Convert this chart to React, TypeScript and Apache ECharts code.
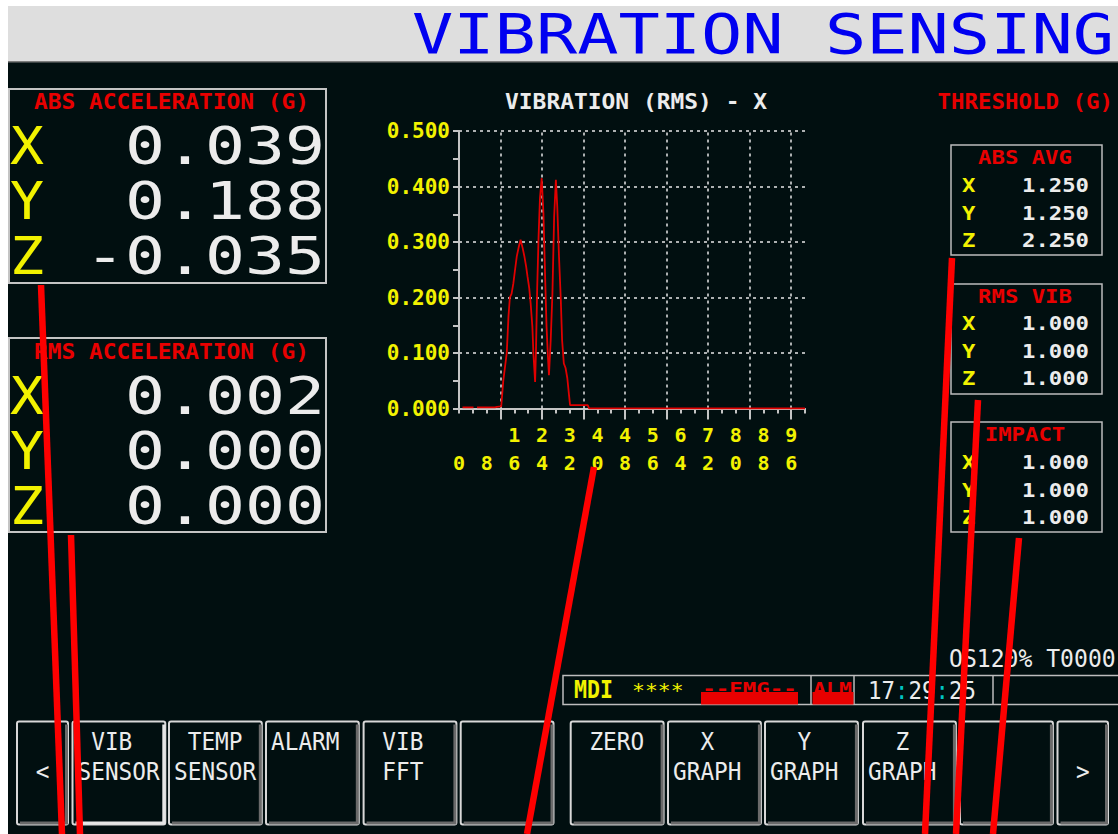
import React, { useEffect, useRef } from 'react';
import * as echarts from 'echarts';

// ---------------- data ----------------
const freqHz = [1, 4.2, 4.6, 5.2, 10.4, 11.0, 12.2, 12.8, 13.8, 14.3, 14.7, 15.2, 15.7, 16.2, 16.7, 17.3, 17.8, 18.4, 18.9, 19.4, 19.8, 20.3, 20.7, 21.2, 21.5, 22.0, 22.25, 22.6, 23.0, 23.4, 23.9, 24.4, 24.9, 25.3, 25.7, 26.0, 26.5, 27.0, 27.5, 28.0, 28.4, 28.9, 29.4, 29.8, 30.3, 30.8, 31.3, 31.8, 32.1, 37.2, 37.6, 100];
const rmsX: (number | null)[] = [0.002, 0.002, null, 0.002, 0.002, 0.003, 0.004, 0.05, 0.10, 0.166, 0.2, 0.207, 0.225, 0.25, 0.274, 0.292, 0.304, 0.289, 0.274, 0.256, 0.238, 0.217, 0.19, 0.148, 0.1, 0.048, 0.105, 0.217, 0.31, 0.379, 0.415, 0.352, 0.235, 0.148, 0.094, 0.06, 0.123, 0.207, 0.346, 0.412, 0.364, 0.274, 0.2, 0.123, 0.081, 0.073, 0.055, 0.024, 0.006, 0.006, 0, 0];
const xLabelValues = [0, 8, 16, 24, 32, 40, 48, 56, 64, 72, 80, 88, 96];
const xGridValues = [12, 24, 36, 48, 60, 72, 84, 96];

const axisNames = ['X', 'Y', 'Z'];
const absAccel = [0.039, 0.188, -0.035];
const rmsAccel = [0.002, 0.0, 0.0];
const thrAbsAvg = [1.25, 1.25, 2.25];
const thrRmsVib = [1.0, 1.0, 1.0];
const thrImpact = [1.0, 1.0, 1.0];
const leftKeys = [['<'], [' VIB', 'SENSOR'], [' TEMP', 'SENSOR'], ['ALARM'], [' VIB', ' FFT'], []];
const rightKeys = [[' ZERO'], ['  X', 'GRAPH'], ['  Y', 'GRAPH'], ['  Z', 'GRAPH'], [], ['>']];
const clockText = '17:29:25';

// ---------------- styles ----------------
const BG = '#010f10';
const WHITE = '#ececec';
const YELLOW = '#f2f200';
const RED = '#e80000';
const GRAYLINE = '#c4c4c4';
const FONT = '"DejaVu Sans Mono", "Liberation Mono", monospace';
const ADV = 0.602;

function txt(text: string, x: number, y: number, size: number, adv: number, fill: string, opts: any = {}) {
  const align = opts.align || 'left';
  return {
    type: 'text',
    x,
    y,
    scaleX: adv / (ADV * size),
    z: opts.z ?? 10,
    style: {
      text,
      fill,
      font: `${opts.bold ? 'bold ' : ''}${size}px ${FONT}`,
      align,
      verticalAlign: 'middle',
      textAlign: align,
      textVerticalAlign: 'middle',
      rich: opts.rich,
    },
  };
}

function box(x: number, y: number, w: number, h: number, stroke = GRAYLINE, lw = 2) {
  return { type: 'rect', z: 5, shape: { x, y, width: w, height: h }, style: { fill: 'none', stroke, lineWidth: lw } };
}

function fillRect(x: number, y: number, w: number, h: number, fill: string, z = 1) {
  return { type: 'rect', z, shape: { x, y, width: w, height: h }, style: { fill } };
}

function softkey(x: number, w: number, lines: string[], selected: boolean) {
  const y = 721.5;
  const h = 103;
  const els: any[] = [
    { type: 'rect', z: 5, shape: { x, y, width: w, height: h, r: 2 }, style: { fill: 'none', stroke: '#d8d8d8', lineWidth: 2 } },
    { type: 'polyline', z: 6, shape: { points: [[x + w - 1.5, y + 3], [x + w - 1.5, y + h - 1.5], [x + 3, y + h - 1.5]] }, style: { fill: 'none', stroke: selected ? '#e6e6e6' : '#6a6a6a', lineWidth: 3 } },
  ];
  const adv = 13.7;
  if (lines.length === 1 && (lines[0] === '<' || lines[0] === '>')) {
    els.push(txt(lines[0], x + w / 2, 772, 24, adv, WHITE, { align: 'center' }));
    return els;
  }
  lines.forEach((ln, i) => {
    const lead = ln.length - ln.replace(/^ +/, '').length;
    els.push(txt(ln.trim(), x + 5 + lead * adv, i === 0 ? 742 : 772, 24, adv, WHITE));
  });
  return els;
}

const ANNOTATION_LINES = [
  [41, 285, 62, 834],
  [71, 535, 80, 834],
  [594, 467, 527, 834],
  [952, 258, 925, 834],
  [978, 400, 956, 834],
  [1019, 538, 993, 834],
];

function buildGraphic() {
  const els: any[] = [];
  // page margins and header
  els.push(fillRect(0, 0, 8, 834, '#ffffff'));
  els.push(fillRect(0, 0, 1118, 6, '#ffffff'));
  els.push(fillRect(8, 6, 1110, 55, '#dedede'));
  els.push(fillRect(8, 61, 1110, 1.5, '#7c7c7c'));
  els.push(txt('VIBRATION SENSING', 412, 34, 56, 41.3, '#0000f0'));

  // ABS acceleration panel
  els.push(box(9, 89, 317, 194));
  els.push(txt('ABS ACCELERATION (G)', 34, 102, 21, 13.75, RED, { bold: true }));
  absAccel.forEach((v, i) => {
    const y = 146 + i * 55;
    els.push(txt(axisNames[i], 10, y, 52, 34, YELLOW));
    els.push(txt(v.toFixed(3), 325, y, 52, 40, WHITE, { align: 'right' }));
  });

  // RMS acceleration panel
  els.push(box(9, 338, 317, 194));
  els.push(txt('RMS ACCELERATION (G)', 34, 352, 21, 13.75, RED, { bold: true }));
  rmsAccel.forEach((v, i) => {
    const y = 396 + i * 55;
    els.push(txt(axisNames[i], 10, y, 52, 34, YELLOW));
    els.push(txt(v.toFixed(3), 325, y, 52, 40, WHITE, { align: 'right' }));
  });

  // chart title
  els.push(txt('VIBRATION (RMS) - X', 505, 102, 21, 13.8, WHITE, { bold: true }));

  // threshold panel
  els.push(txt('THRESHOLD (G)', 1113, 102, 21, 13.5, RED, { align: 'right', bold: true }));
  const thr = [
    { title: 'ABS AVG', vals: thrAbsAvg, top: 145, rows: [186, 213.5, 241] },
    { title: 'RMS VIB', vals: thrRmsVib, top: 284, rows: [324, 352, 379] },
    { title: 'IMPACT', vals: thrImpact, top: 422, rows: [463, 491, 518] },
  ];
  thr.forEach((b) => {
    els.push(box(951, b.top, 151, 110, '#bcbcbc', 1.5));
    els.push(txt(b.title, 1025, b.top + 13, 19, 13.4, RED, { align: 'center', bold: true }));
    b.vals.forEach((v, i) => {
      els.push(txt(axisNames[i], 962, b.rows[i], 19, 13.4, YELLOW, { bold: true }));
      els.push(txt(v.toFixed(3), 1089, b.rows[i], 19, 13.4, WHITE, { align: 'right', bold: true }));
    });
  });

  // status line
  els.push(txt('OS120% T0000', 949, 659, 24, 13.9, WHITE));
  els.push(box(563, 675.5, 560, 29, '#bdbdbd', 1.5));
  [811, 854, 993].forEach((x) => {
    els.push({ type: 'line', z: 6, shape: { x1: x, y1: 676, x2: x, y2: 704 }, style: { stroke: '#bdbdbd', lineWidth: 1.5 } });
  });
  els.push(txt('MDI', 574, 690, 24, 13, YELLOW, { bold: true }));
  els.push(txt('****', 632, 690, 20, 12.9, YELLOW));
  els.push(txt('--EMG--', 749.5, 689, 17, 13.5, RED, { align: 'center', bold: true }));
  els.push(fillRect(701, 692, 97, 12.5, RED, 11));
  els.push(txt('ALM', 832.5, 689, 17, 13, RED, { align: 'center', bold: true }));
  els.push(fillRect(812.5, 692, 41, 12.5, RED, 11));
  const parts = clockText.split(':');
  const rich = {
    w: { fill: WHITE, font: `24px ${FONT}` },
    c: { fill: '#00c4c4', font: `24px ${FONT}` },
  };
  els.push(txt(parts.map((p) => `{w|${p}}`).join('{c|:}'), 868, 690, 24, 13.5, WHITE, { rich }));

  // softkeys
  const lx = [17, 72.5, 169, 266, 363.6, 460.7];
  const lw = [51, 92.8, 92.8, 92.8, 92.8, 92.8];
  leftKeys.forEach((k, i) => els.push(...softkey(lx[i], lw[i], k, i === 1)));
  const rx = [570.7, 668, 765, 863, 960, 1057.5];
  const rw = [92.9, 92.9, 92.9, 92.9, 92.9, 50.5];
  rightKeys.forEach((k, i) => els.push(...softkey(rx[i], rw[i], k, false)));

  // red annotation strokes
  ANNOTATION_LINES.forEach(([x1, y1, x2, y2]) => {
    els.push({ type: 'line', z: 100, shape: { x1, y1, x2, y2 }, style: { stroke: '#ff0000', lineWidth: 6.5, lineCap: 'butt' } });
  });
  return els;
}

export default function App() {
  const ref = useRef<HTMLDivElement>(null);
  useEffect(() => {
    if (!ref.current) return;
    const chart = echarts.init(ref.current, undefined, { renderer: 'svg' });
    const tickStyle = { color: GRAYLINE, width: 2 };
    const gridLine = { color: '#e6e6e6', width: 1.5, type: [3, 4] as any };
    const labelFont = { color: YELLOW, fontFamily: FONT, fontSize: 21, fontWeight: 'bold' as const };
    const option: any = {
      animation: false,
      backgroundColor: BG,
      grid: { left: 459, top: 131, width: 346, height: 277.5, containLabel: false, outerBoundsMode: 'none' },
      xAxis: [
        {
          type: 'value', min: 0, max: 100, interval: 4, position: 'bottom', offset: 0,
          axisLine: { show: true, onZero: false, lineStyle: tickStyle },
          axisTick: { show: true, length: 5, lineStyle: tickStyle },
          axisLabel: {
            ...labelFont, fontSize: 20, margin: 12, lineHeight: 28, customValues: xLabelValues,
            formatter: (v: number) => {
              const s = String(Math.round(v));
              return s.length > 1 ? s[0] + '\n' + s[1] : ' \n' + s;
            },
          },
          splitLine: { show: false },
        },
        {
          type: 'value', min: 0, max: 100, interval: 12, position: 'bottom', offset: 0,
          axisLine: { show: false, onZero: false },
          axisTick: { show: true, length: 11, lineStyle: tickStyle, customValues: xGridValues },
          axisLabel: { show: false },
          splitLine: { show: false },
        },
      ],
      yAxis: {
        type: 'value', min: 0, max: 0.5, interval: 0.1,
        axisLine: { show: true, lineStyle: tickStyle },
        axisTick: { show: true, length: 6, lineStyle: tickStyle },
        minorTick: { show: true, splitNumber: 2, length: 6, lineStyle: tickStyle },
        axisLabel: { ...labelFont, margin: 9, formatter: (v: number) => v.toFixed(3) },
        splitLine: { show: true, showMinLine: false, lineStyle: gridLine },
      },
      series: [
        {
          type: 'line', xAxisIndex: 0, yAxisIndex: 0, showSymbol: false, symbol: 'none',
          connectNulls: false,
          lineStyle: { color: '#e00000', width: 1.8 },
          data: freqHz.map((f, i) => [f, rmsX[i] === null ? '-' : rmsX[i]]),
          z: 5,
          markLine: {
            silent: true,
            symbol: 'none',
            label: { show: false },
            lineStyle: gridLine,
            z: 1,
            data: xGridValues.map((v) => ({ xAxis: v })),
          },
        },
      ],
      graphic: { elements: buildGraphic() },
    };
    chart.setOption(option);
    return () => chart.dispose();
  }, []);
  return <div ref={ref} style={{ position: 'fixed', left: 0, top: 0, width: 1118, height: 834 }} />;
}
